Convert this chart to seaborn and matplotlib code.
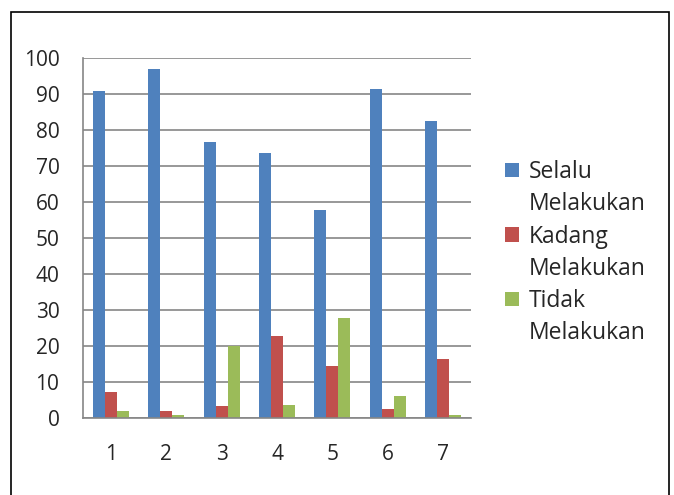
import pandas as pd
import matplotlib.pyplot as plt
import seaborn as sns
import numpy as np
from matplotlib.patches import Rectangle

# Data
categories = ['1', '2', '3', '4', '5', '6', '7']
selalu = [90.6, 96.8, 76.6, 73.4, 57.6, 91.2, 82.4]
kadang = [7.2, 1.7, 3.1, 22.6, 14.4, 2.4, 16.2]
tidak = [1.8, 0.7, 19.8, 3.4, 27.6, 5.9, 0.6]
series_labels = ['Selalu\nMelakukan', 'Kadang\nMelakukan', 'Tidak\nMelakukan']
colors = ['#4f81bd', '#c0504d', '#9bbb59']

df = pd.DataFrame({'kategori': categories * 3,
                   'nilai': selalu + kadang + tidak,
                   'seri': [s for s in series_labels for _ in categories]})

sns.set_style('white')
plt.rcParams['font.family'] = ['Open Sans', 'DejaVu Sans']

fig = plt.figure(figsize=(6.74, 4.95), dpi=100)
ax = fig.add_axes([83 / 674, 1 - 417.5 / 495, 388 / 674, 360 / 495])

sns.barplot(data=df, x='kategori', y='nilai', hue='seri', palette=colors,
            width=0.65, gap=0, saturation=1, ax=ax, linewidth=0)

ax.set_ylim(0, 100)
ax.set_xlim(-0.5, 6.5)
ax.set_yticks(np.arange(0, 101, 10))
ax.set_xlabel('')
ax.set_ylabel('')
ax.yaxis.grid(True, color='#868686', linewidth=1.2)
ax.set_axisbelow(True)
for side in ['top', 'right']:
    ax.spines[side].set_visible(False)
for side in ['left', 'bottom']:
    ax.spines[side].set_color('#868686')
    ax.spines[side].set_linewidth(1.2)

ax.tick_params(axis='y', which='major', length=7, color='#868686', width=1.2,
               labelsize=15, pad=10)
ax.tick_params(axis='x', which='major', length=0, labelsize=15, pad=19)
ax.set_xticks(np.arange(-0.5, 7, 1), minor=True)
ax.tick_params(axis='x', which='minor', length=6, color='#868686', width=1.2)

# legend: each series name wraps onto a second line, square only on the first
handles, labels = ax.get_legend_handles_labels()
blank = Rectangle((0, 0), 1, 1, visible=False)
leg_handles, leg_labels = [], []
for h, lab in zip(handles, labels):
    first, second = lab.split('\n')
    leg_handles += [h, blank]
    leg_labels += [first, second]

ax.legend(leg_handles, leg_labels, loc='upper left',
          bbox_to_anchor=(505 / 674, 1 - 160 / 495),
          bbox_transform=fig.transFigure, frameon=False, fontsize=16.5,
          handlelength=0.62, handleheight=0.62, handletextpad=0.4,
          labelspacing=0.36, borderaxespad=0, borderpad=0)

fig.patches.append(Rectangle((11 / 674, -10 / 495), 658 / 674, 493 / 495,
                             transform=fig.transFigure, fill=False,
                             edgecolor='black', linewidth=1.2))

plt.savefig('out.png', dpi=100)
